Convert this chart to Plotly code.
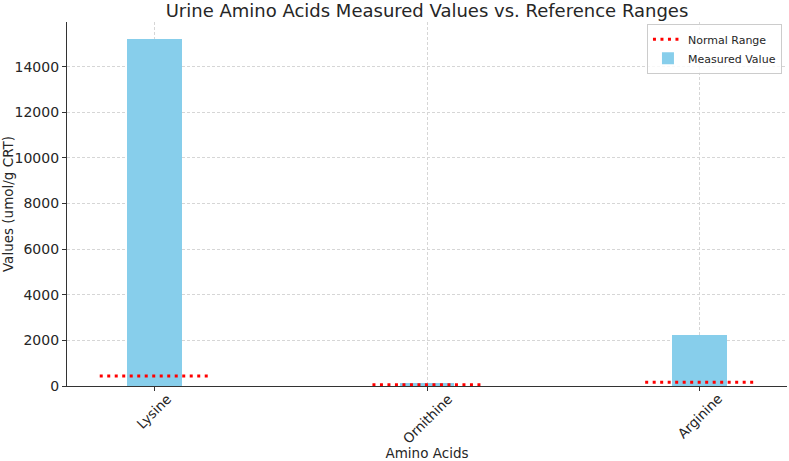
import plotly.graph_objects as go

categories = ["Lysine", "Ornithine", "Arginine"]
measured = [15200, 145, 2250]
normal_upper = [440, 50, 160]
y_ticks = [0, 2000, 4000, 6000, 8000, 10000, 12000, 14000]
y_tick_labels = [str(v) for v in y_ticks]

bar_width = 0.2
line_half = 0.2
idx = list(range(len(categories)))

fig = go.Figure()
fig.add_trace(go.Bar(
    x=idx, y=measured, width=bar_width, name="Measured Value",
    marker=dict(color="#87CEEB", line=dict(width=0)), legendrank=2,
))
lx, ly = [], []
for i, v in zip(idx, normal_upper):
    lx += [i - line_half, i + line_half, None]
    ly += [v, v, None]
fig.add_trace(go.Scatter(
    x=lx, y=ly, mode="lines", name="Normal Range",
    line=dict(color="red", width=3, dash="3px,4.5px"), legendrank=1,
))

for i, c in zip(idx, categories):
    fig.add_annotation(x=i, y=0, xref="x", yref="y", text=c, showarrow=False,
                       textangle=-45, xanchor="center", yanchor="top", yshift=-2,
                       font=dict(size=13.5, color="#262626"))

ymax = max(measured) * 1.05
fig.update_layout(
    width=789, height=461,
    margin=dict(l=67, r=2, t=22, b=75, autoexpand=False),
    paper_bgcolor="white", plot_bgcolor="white",
    font=dict(family="DejaVu Sans", size=12, color="#262626"),
    title=dict(text="Urine Amino Acids Measured Values vs. Reference Ranges",
               xref="paper", x=0.5, xanchor="center", y=0.977, yanchor="middle",
               font=dict(size=18, color="#262626")),
    showlegend=True,
    legend=dict(x=0.993, y=0.995, xanchor="right", yanchor="top",
                bordercolor="#cccccc", borderwidth=1, bgcolor="rgba(255,255,255,0.8)",
                font=dict(size=11), tracegroupgap=0, itemwidth=30),
    bargap=0,
)
fig.update_xaxes(
    range=[-0.32, 2.32], tickmode="array", tickvals=idx, ticktext=["", "", ""],
    ticks="outside", ticklen=4, tickcolor="#333", automargin=False,
    showline=True, linecolor="#333", linewidth=1.2, mirror=False,
    showgrid=True, gridcolor="#d6d6d6", griddash="3px,2px", gridwidth=0.8,
    zeroline=False, tickfont=dict(size=13.5),
    title=dict(text="Amino Acids", standoff=55, font=dict(size=13.5)),
)
fig.update_yaxes(
    range=[0, ymax], tickmode="array", tickvals=y_ticks, ticktext=y_tick_labels,
    ticks="outside", ticklen=4, tickcolor="#333", automargin=False,
    showline=True, linecolor="#333", linewidth=1.2,
    showgrid=True, gridcolor="#d6d6d6", griddash="3px,2px", gridwidth=0.8,
    zeroline=False, tickfont=dict(size=14),
    title=dict(text="Values (umol/g CRT)", standoff=6, font=dict(size=13.5)),
)
fig.write_html("out.html")
